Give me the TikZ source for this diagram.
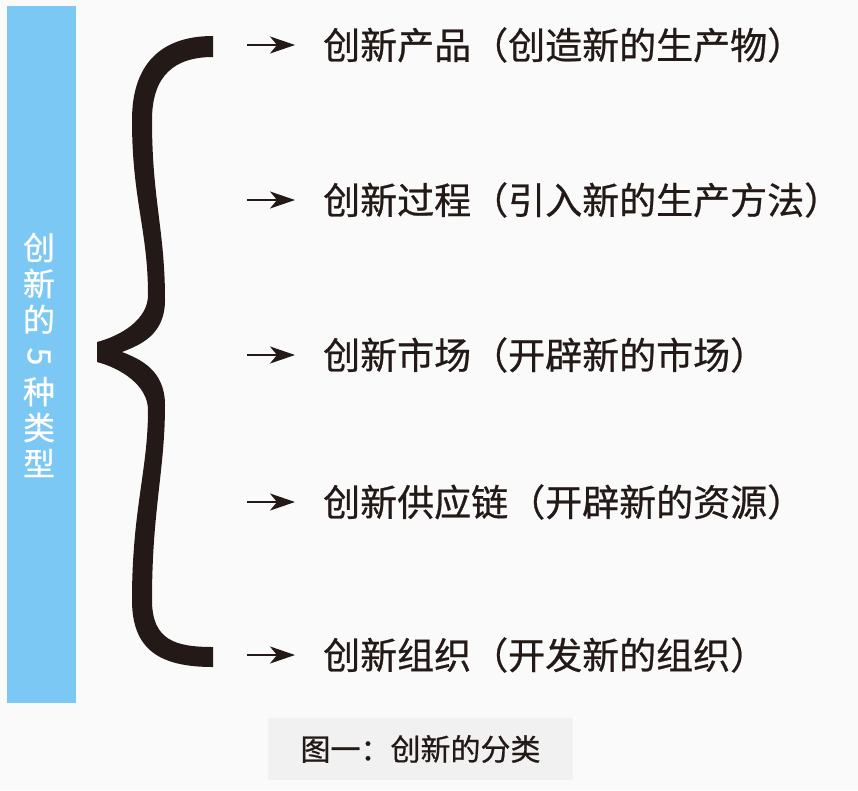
\documentclass[tikz,border=0pt]{standalone}
\usepackage{fontspec}
\newfontfamily\cjk{Noto Sans CJK SC}[FakeBold=0.7]
\usetikzlibrary{arrows.meta}
\definecolor{barBlue}{RGB}{124,200,245}
\definecolor{inkBlack}{RGB}{35,26,24}
\definecolor{pageWhite}{RGB}{250,250,250}
\definecolor{captionGray}{RGB}{241,241,241}

\begin{document}
\begin{tikzpicture}[x=1pt, y=-1pt,
  itemText/.style={rectangle, draw=none, anchor=west, inner sep=0pt, text=inkBlack, font=\cjk\fontsize{37}{40}\selectfont},
  flowArrow/.style={-{Stealth[length=25pt, width=17pt, inset=7pt]}, line width=2pt, draw=inkBlack, shorten >=28pt}]
%\draw[help lines, step=50pt] (0,0) grid (858,790);
%%%%%%%%%%%%%%%%%%%%%%%%%%%%%%% page and blue bar
\fill[pageWhite] (0,0) rectangle (858,790);
\useasboundingbox (0,0) rectangle (858,790);
\node[rectangle, draw=none, fill=barBlue, minimum width=69pt, minimum height=697pt, inner sep=0pt](typeBar) at (41.5,354.5){};
\node[rectangle, draw=none, text=white, align=center, inner sep=0pt, font=\cjk\fontsize{32}{36}\selectfont](typeLabel) at (39,355){创\\新\\的\\\rotatebox[origin=c]{-90}{5}\\种\\类\\型};

%%%%%%%%%%%%%%%%%%%%%%%%%%%%%%% the brace
\fill[inkBlack] (213,36) -- (213,57) .. controls (175,57) and (152,75) .. (152,120)
  .. controls (152,200) and (165,230) .. (165,300)
  .. controls (165,335) and (140,345) .. (122,352)
  .. controls (140,359) and (165,370) .. (165,405)
  .. controls (165,470) and (152,510) .. (152,600)
  .. controls (152,640) and (175,647) .. (213,647)
  -- (213,667)
  .. controls (160,667) and (132,650) .. (132,600)
  .. controls (132,510) and (148,470) .. (148,410)
  .. controls (148,385) and (120,368) .. (97,362)
  -- (97,342)
  .. controls (120,336) and (148,320) .. (148,295)
  .. controls (148,230) and (132,200) .. (132,120)
  .. controls (132,65) and (160,36) .. (213,36) -- cycle;

%%%%%%%%%%%%%%%%%%%%%%%%%%%%%%% the five types
\coordinate (arrS1) at (247,45);
\node[itemText](item1) at (323,45){创新产品（创造新的生产物）};
\draw[flowArrow] (arrS1) -- (item1);
\coordinate (arrS2) at (247,200);
\node[itemText](item2) at (323,200){创新过程（引入新的生产方法）};
\draw[flowArrow] (arrS2) -- (item2);
\coordinate (arrS3) at (247,355);
\node[itemText](item3) at (323,355){创新市场（开辟新的市场）};
\draw[flowArrow] (arrS3) -- (item3);
\coordinate (arrS4) at (247,502);
\node[itemText](item4) at (323,502){创新供应链（开辟新的资源）};
\draw[flowArrow] (arrS4) -- (item4);
\coordinate (arrS5) at (247,655);
\node[itemText](item5) at (323,655){创新组织（开发新的组织）};
\draw[flowArrow] (arrS5) -- (item5);

%%%%%%%%%%%%%%%%%%%%%%%%%%%%%%% caption
\node[rectangle, draw=none, fill=captionGray, minimum width=305pt, minimum height=62pt, inner sep=0pt, text=inkBlack, font=\cjk\fontsize{30}{36}\selectfont](caption) at (420.5,749){图一：创新的分类};
\end{tikzpicture}
\end{document}
